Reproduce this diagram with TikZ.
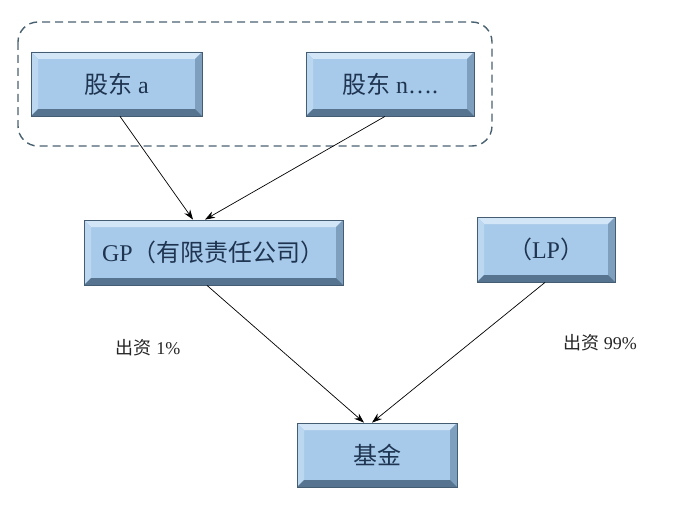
\documentclass[tikz,border=0pt]{standalone}
\usepackage{fontspec}
\setmainfont{Liberation Serif}
\newfontfamily\cjk{Noto Sans CJK SC}
\usetikzlibrary{arrows.meta,positioning,fit}

\definecolor{boxfill}{HTML}{A8CAEA}
\definecolor{boxtop}{HTML}{D3E6F7}
\definecolor{boxleft}{HTML}{BCD7F0}
\definecolor{boxright}{HTML}{7F9FBE}
\definecolor{boxbottom}{HTML}{56748F}
\definecolor{boxtext}{HTML}{1E3450}
\definecolor{dashline}{HTML}{4A6172}

\begin{document}
\begin{tikzpicture}[
  x=1pt, y=-1pt,
  font=\fontsize{24}{28}\selectfont,
  bevelbox/.style={draw=boxbottom!80!black, line width=0.8pt, fill=boxfill,
    text=boxtext, minimum height=64pt, inner sep=0pt,
    path picture={
      \fill[boxtop] (path picture bounding box.north west) -- (path picture bounding box.north east)
        -- ([shift={(-7pt,-7pt)}]path picture bounding box.north east) -- ([shift={(7pt,-7pt)}]path picture bounding box.north west) -- cycle;
      \fill[boxleft] (path picture bounding box.north west) -- ([shift={(7pt,-7pt)}]path picture bounding box.north west)
        -- ([shift={(7pt,7pt)}]path picture bounding box.south west) -- (path picture bounding box.south west) -- cycle;
      \fill[boxright] (path picture bounding box.north east) -- ([shift={(-7pt,-7pt)}]path picture bounding box.north east)
        -- ([shift={(-7pt,7pt)}]path picture bounding box.south east) -- (path picture bounding box.south east) -- cycle;
      \fill[boxbottom] (path picture bounding box.south west) -- ([shift={(7pt,7pt)}]path picture bounding box.south west)
        -- ([shift={(-7pt,7pt)}]path picture bounding box.south east) -- (path picture bounding box.south east) -- cycle;
    }},
  link/.style={-{Stealth[length=10pt,width=7pt]}, line width=0.7pt, draw=black},
  share/.style={font=\fontsize{18}{21}\selectfont, text=black!85}
]
\useasboundingbox (0,0) rectangle (692,516);

% shareholders
\node[bevelbox, minimum width=171pt] (holdera) at (116.5,84) {{\cjk 股东} a};
\node[bevelbox, minimum width=168pt] (holdern) at (390,84) {{\cjk 股东} n….};
\draw[dashline, dashed, dash pattern=on 8pt off 5pt, line width=1.4pt, rounded corners=20pt]
  (18,22) rectangle (492,146);

% partners
\node[bevelbox, minimum width=259pt, minimum height=65pt] (gp) at (213.5,252.5) {GP{\cjk （有限责任公司）}\hspace{20pt}};
\node[bevelbox, minimum width=138pt, minimum height=65pt] (lp) at (546,249.5) {{\cjk （}LP{\cjk ）}};

% fund
\node[bevelbox, minimum width=160pt] (fund) at (377,455) {\cjk 基金};

\node[share] (gpshare) at (148,348) {{\cjk 出资} 1\%};
\node[share] (lpshare) at (600,343) {{\cjk 出资} 99\%};

\draw[link] ([xshift=3.5pt]holdera.south) -- ([xshift=-20.5pt]gp.north);
\draw[link] ([xshift=-5pt]holdern.south) -- ([xshift=-8.5pt]gp.north);
\draw[link] ([xshift=-6.5pt]gp.south) -- ([xshift=-13pt]fund.north);
\draw[link] ([xshift=-1pt]lp.south) -- ([xshift=-5pt]fund.north);

\end{tikzpicture}
\end{document}
